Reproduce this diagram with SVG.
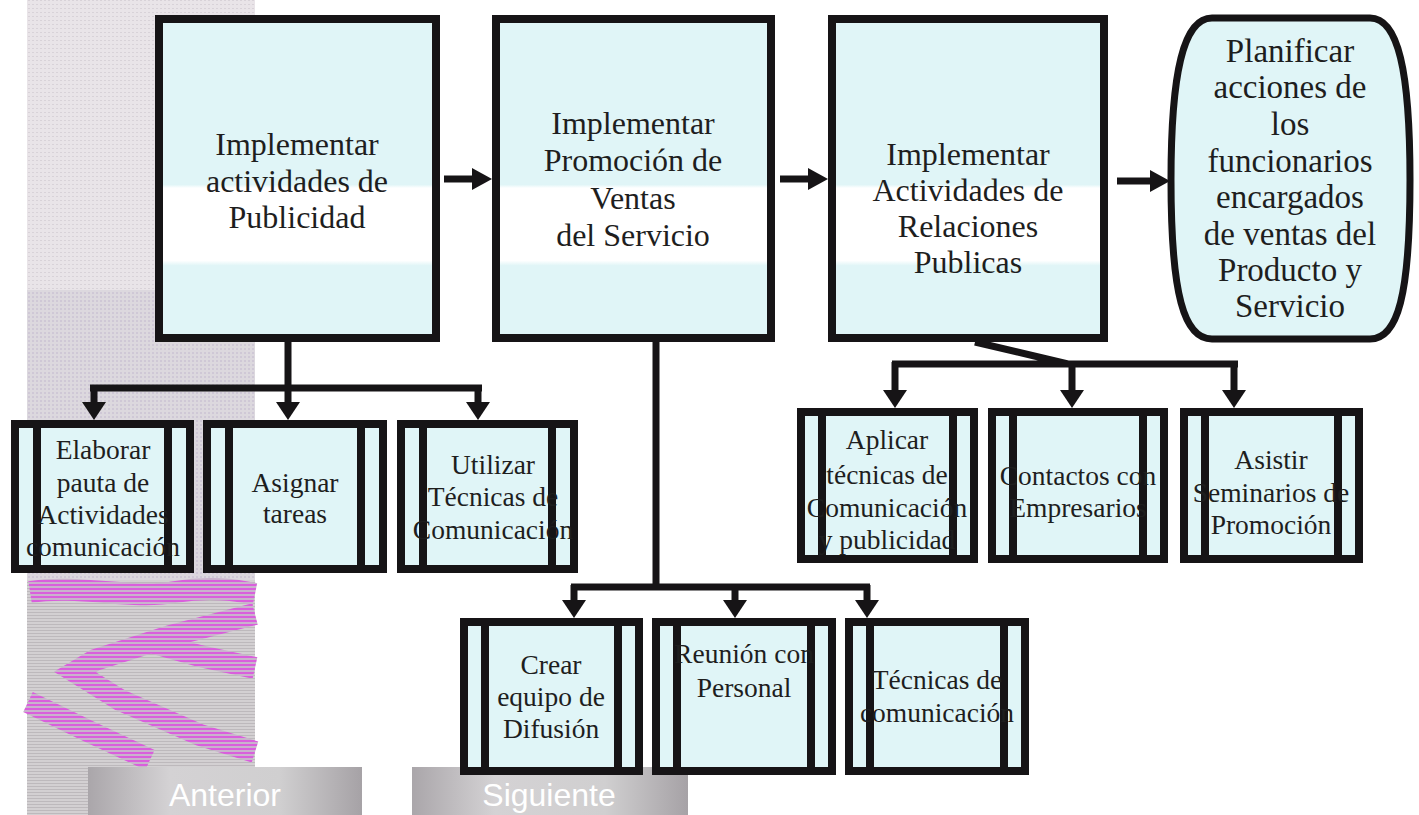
<svg xmlns="http://www.w3.org/2000/svg" width="1419" height="815" viewBox="0 0 1419 815">
<style>
.box{fill:url(#cy);stroke:#161416;stroke-width:8}
.sub{fill:#e0f5f7;stroke:#161416;stroke-width:8}
.il{stroke:#161416;stroke-width:8}
.t{font-family:"Liberation Serif","Times New Roman",serif;fill:#1e1e1e;text-anchor:middle}
.big{font-size:32px}
.xl{font-size:33px}
.sm{font-size:27.5px}
.con{fill:none;stroke:#161416;stroke-width:7}
.btn{font-family:"Liberation Sans",Arial,sans-serif;font-size:32px;fill:#ffffff;text-anchor:middle}
</style>
<defs>
<linearGradient id="cy" gradientUnits="userSpaceOnUse" x1="0" y1="0" x2="0" y2="345">
<stop offset="0" stop-color="#e0f5f7"/>
<stop offset="0.535" stop-color="#e0f5f7"/>
<stop offset="0.545" stop-color="#ffffff"/>
<stop offset="0.755" stop-color="#ffffff"/>
<stop offset="0.77" stop-color="#e0f5f7"/>
<stop offset="1" stop-color="#e0f5f7"/>
</linearGradient>
<linearGradient id="bg" x1="0" y1="0" x2="1" y2="0">
<stop offset="0" stop-color="#aaa6aa"/>
<stop offset="0.3" stop-color="#d4d2d4"/>
<stop offset="0.7" stop-color="#d0cfd0"/>
<stop offset="1" stop-color="#a6a2a6"/>
</linearGradient>
<pattern id="mag" width="6" height="4" patternUnits="userSpaceOnUse">
<rect width="6" height="4" fill="#c9b3cc"/>
<rect width="6" height="2" fill="#d95fdc"/>
</pattern>
<pattern id="dots" width="4" height="4" patternUnits="userSpaceOnUse">
<rect width="4" height="4" fill="#e9e4e8"/>
<rect width="2" height="1" fill="#d8d2d8"/>
</pattern>
<pattern id="dots2" width="4" height="4" patternUnits="userSpaceOnUse">
<rect width="4" height="4" fill="#dcd8de"/>
<rect width="2" height="2" fill="#cfc8d6"/>
</pattern>
<pattern id="lines" width="4" height="3" patternUnits="userSpaceOnUse">
<rect width="4" height="3" fill="#d3d0d2"/>
<rect width="4" height="1" fill="#bdb9bc"/>
</pattern>
<marker id="ah" viewBox="0 0 20 22" refX="0" refY="11" markerWidth="20" markerHeight="22" markerUnits="userSpaceOnUse" orient="auto">
<path d="M0,0 L20,11 L0,22 Z" fill="#161416"/>
</marker>
<marker id="ad" viewBox="0 0 18 24" refX="0" refY="12" markerWidth="18" markerHeight="24" markerUnits="userSpaceOnUse" orient="auto">
<path d="M0,0 L18,12 L0,24 Z" fill="#161416"/>
</marker>
</defs>
<rect width="1419" height="815" fill="#ffffff"/>
<g id="background">
<rect x="27" y="0" width="228" height="290" fill="url(#dots)"/>
<rect x="27" y="290" width="228" height="290" fill="url(#dots2)"/>
<rect x="27" y="580" width="228" height="235" fill="url(#lines)"/>
<g fill="none" stroke="url(#mag)" stroke-width="22">
<path d="M30,592 C80,584 130,600 175,592 C210,586 235,590 255,594"/>
<path d="M255,614 L170,636 L95,660 L75,672 L120,700 L200,735 L255,752"/>
<path d="M28,702 L90,732 L150,760"/>
<path d="M150,642 L200,656 L255,668"/>
</g>
</g>
<g id="btn-anterior">
<rect x="88" y="767" width="274" height="48" fill="url(#bg)"/>
<text class="btn" x="225" y="806">Anterior</text>
</g>
<g id="btn-siguiente">
<rect x="412" y="767" width="276" height="48" fill="url(#bg)"/>
<text class="btn" x="549" y="806">Siguiente</text>
</g>
<g id="connectors">
<path class="con" d="M444,179 H472" marker-end="url(#ah)"/>
<path class="con" d="M780,179 H808" marker-end="url(#ah)"/>
<path class="con" d="M1117,181 H1150" marker-end="url(#ah)"/>
<path class="con" d="M288,342 V388 M90,388 H482"/>
<path class="con" d="M94,386 V402" stroke-width="4" marker-end="url(#ad)"/>
<path class="con" d="M288,386 V402" marker-end="url(#ad)"/>
<path class="con" d="M478,386 V402" marker-end="url(#ad)"/>
<path class="con" d="M656,342 V587 M571,587 H870"/>
<path class="con" d="M574,585 V600" marker-end="url(#ad)"/>
<path class="con" d="M735,585 V600" marker-end="url(#ad)"/>
<path class="con" d="M867,585 V600" marker-end="url(#ad)"/>
<path class="con" d="M975,342 L1068,364 M892,364 H1238"/>
<path class="con" d="M895,362 V390" marker-end="url(#ad)"/>
<path class="con" d="M1072,362 V390" marker-end="url(#ad)"/>
<path class="con" d="M1234,362 V390" marker-end="url(#ad)"/>
</g>
<g id="n1">
<rect class="box" x="159" y="19" width="277" height="319"/>
<text class="t big"><tspan x="297" y="155">Implementar</tspan><tspan x="297" y="192">actividades de</tspan><tspan x="297" y="228">Publicidad</tspan></text>
</g>
<g id="n2">
<rect class="box" x="496" y="19" width="275" height="319"/>
<text class="t big"><tspan x="633" y="134">Implementar</tspan><tspan x="633" y="171">Promoción de</tspan><tspan x="633" y="209">Ventas</tspan><tspan x="633" y="246">del Servicio</tspan></text>
</g>
<g id="n3">
<rect class="box" x="832" y="19" width="272" height="319"/>
<text class="t big"><tspan x="968" y="165">Implementar</tspan><tspan x="968" y="201">Actividades de</tspan><tspan x="968" y="237">Relaciones</tspan><tspan x="968" y="273">Publicas</tspan></text>
</g>
<g id="n4">
<path d="M1212,18 H1370 C1398,18 1410,70 1410,180 C1410,295 1398,339 1370,339 H1212 C1184,339 1171,295 1171,180 C1171,70 1184,18 1212,18 Z" fill="#e0f5f7" stroke="#161416" stroke-width="7"/>
<text class="t xl"><tspan x="1290" y="62">Planificar</tspan><tspan x="1290" y="98">acciones de</tspan><tspan x="1290" y="135">los</tspan><tspan x="1290" y="172">funcionarios</tspan><tspan x="1290" y="208">encargados</tspan><tspan x="1290" y="245">de ventas del</tspan><tspan x="1290" y="281">Producto y</tspan><tspan x="1290" y="317">Servicio</tspan></text>
</g>
<g id="s1">
<rect class="sub" x="15" y="424" width="175" height="145"/>
<path class="il" d="M37,424 V569 M168,424 V569"/>
<text class="t sm"><tspan x="103" y="459">Elaborar</tspan><tspan x="103" y="492">pauta de</tspan><tspan x="103" y="524">Actividades</tspan><tspan x="103" y="556">comunicación</tspan></text>
</g>
<g id="s2">
<rect class="sub" x="207" y="424" width="176" height="145"/>
<path class="il" d="M229,424 V569 M361,424 V569"/>
<text class="t sm"><tspan x="295" y="492">Asignar</tspan><tspan x="295" y="523">tareas</tspan></text>
</g>
<g id="s3">
<rect class="sub" x="401" y="424" width="173" height="145"/>
<path class="il" d="M423,424 V569 M552,424 V569"/>
<text class="t sm"><tspan x="493" y="474">Utilizar</tspan><tspan x="493" y="506">Técnicas de</tspan><tspan x="493" y="539">Comunicación</tspan></text>
</g>
<g id="s4">
<rect class="sub" x="801" y="412" width="173" height="147"/>
<path class="il" d="M822,412 V559 M953,412 V559"/>
<text class="t sm"><tspan x="887" y="449">Aplicar</tspan><tspan x="887" y="484">técnicas de</tspan><tspan x="887" y="517">Comunicación</tspan><tspan x="887" y="549">y publicidad</tspan></text>
</g>
<g id="s5">
<rect class="sub" x="992" y="412" width="172" height="147"/>
<path class="il" d="M1013,412 V559 M1143,412 V559"/>
<text class="t sm"><tspan x="1078" y="485">Contactos con</tspan><tspan x="1078" y="517">Empresarios</tspan></text>
</g>
<g id="s6">
<rect class="sub" x="1184" y="412" width="175" height="147"/>
<path class="il" d="M1205,412 V559 M1338,412 V559"/>
<text class="t sm"><tspan x="1271" y="469">Asistir</tspan><tspan x="1271" y="502">Seminarios de</tspan><tspan x="1271" y="534">Promoción</tspan></text>
</g>
<g id="s7">
<rect class="sub" x="464" y="622" width="175" height="149"/>
<path class="il" d="M485,622 V771 M618,622 V771"/>
<text class="t sm"><tspan x="551" y="674">Crear</tspan><tspan x="551" y="706">equipo de</tspan><tspan x="551" y="738">Difusión</tspan></text>
</g>
<g id="s8">
<rect class="sub" x="656" y="622" width="176" height="149"/>
<path class="il" d="M677,622 V771 M811,622 V771"/>
<text class="t sm"><tspan x="744" y="663">Reunión con</tspan><tspan x="744" y="697">Personal</tspan></text>
</g>
<g id="s9">
<rect class="sub" x="849" y="622" width="176" height="149"/>
<path class="il" d="M870,622 V771 M1004,622 V771"/>
<text class="t sm"><tspan x="937" y="689">Técnicas de</tspan><tspan x="937" y="722">comunicación</tspan></text>
</g>
</svg>
